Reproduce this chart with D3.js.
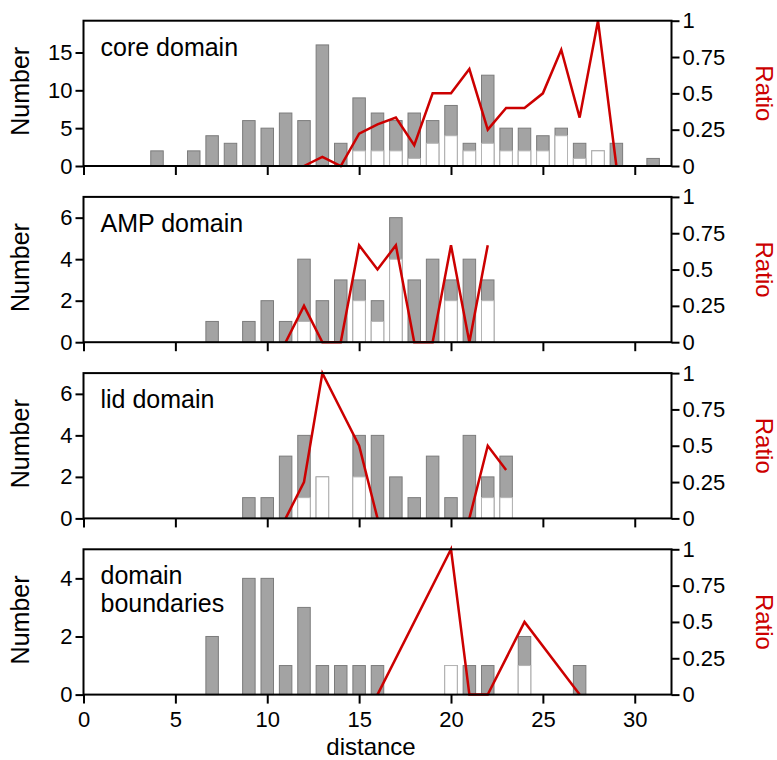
<!DOCTYPE html>
<html>
<head>
<meta charset="utf-8">
<script src="https://cdn.jsdelivr.net/npm/d3@7"></script>
<style>
  body { margin: 0; background: #fff; }
  text { font-family: "Liberation Sans", Arial, sans-serif; }
</style>
</head>
<body>
<script>
// core domain
const coreDist  = [4, 6, 7, 8, 9, 10, 11, 12, 13, 14, 15, 16, 17, 18, 19, 20, 21, 22, 23, 24, 25, 26, 27, 28, 29, 31];
const coreTotal = [2, 2, 4, 3, 6, 5, 7, 6, 16, 3, 9, 7, 6, 7, 6, 8, 3, 12, 5, 5, 4, 5, 3, 2, 3, 1];
const coreSub   = [0, 0, 0, 0, 0, 0, 0, 0, 0, 0, 2, 2, 2, 1, 3, 4, 2, 3, 2, 2, 2, 4, 1, 2, 0, 0];
const coreRatioDist = [12, 13, 14, 15, 16, 17, 18, 19, 20, 21, 22, 23, 24, 25, 26, 27, 28, 29];
const coreRatio     = [0, 0.0625, 0, 0.222, 0.286, 0.333, 0.143, 0.5, 0.5, 0.667, 0.25, 0.4, 0.4, 0.5, 0.8, 0.333, 1, 0];

// AMP domain
const ampDist  = [7, 9, 10, 11, 12, 13, 14, 15, 16, 17, 18, 19, 20, 21, 22];
const ampTotal = [1, 1, 2, 1, 4, 2, 3, 3, 2, 6, 3, 4, 3, 4, 3];
const ampSub   = [0, 0, 0, 0, 1, 0, 0, 2, 1, 4, 0, 0, 2, 0, 2];
const ampRatioDist = [11, 12, 13, 14, 15, 16, 17, 18, 19, 20, 21, 22];
const ampRatio     = [0, 0.25, 0, 0, 0.667, 0.5, 0.667, 0, 0, 0.667, 0, 0.667];

// lid domain
const lidDist  = [9, 10, 11, 12, 13, 15, 16, 17, 18, 19, 20, 21, 22, 23];
const lidTotal = [1, 1, 3, 4, 2, 4, 4, 2, 1, 3, 1, 4, 2, 3];
const lidSub   = [0, 0, 0, 1, 2, 2, 0, 0, 0, 0, 0, 0, 1, 1];
const lidRatioDist = [11, 12, 13, 15, 16, 17, 18, 19, 20, 21, 22, 23];
const lidRatio     = [0, 0.25, 1, 0.5, 0, null, null, null, null, 0, 0.5, 0.333];

// domain boundaries
const bndDist  = [7, 9, 10, 11, 12, 13, 14, 15, 16, 20, 21, 22, 24, 27];
const bndTotal = [2, 4, 4, 1, 3, 1, 1, 1, 1, 1, 1, 1, 2, 1];
const bndSub   = [0, 0, 0, 0, 0, 0, 0, 0, 0, 1, 0, 0, 1, 0];
const bndRatioDist = [16, 20, 21, 22, 24, 27];
const bndRatio     = [0, 1, 0, 0, 0.5, 0];

const panelTitles = [["core domain"], ["AMP domain"], ["lid domain"], ["domain", "boundaries"]];
const yMax = [19.2, 7, 7, 5];
const yTicks = [[0, 5, 10, 15], [0, 2, 4, 6], [0, 2, 4, 6], [0, 2, 4]];
const xTicks = [0, 5, 10, 15, 20, 25, 30];
const ratioTicks = [0, 0.25, 0.5, 0.75, 1];

const panels = [
  {dist: coreDist, total: coreTotal, sub: coreSub, rDist: coreRatioDist, ratio: coreRatio},
  {dist: ampDist, total: ampTotal, sub: ampSub, rDist: ampRatioDist, ratio: ampRatio},
  {dist: lidDist, total: lidTotal, sub: lidSub, rDist: lidRatioDist, ratio: lidRatio},
  {dist: bndDist, total: bndTotal, sub: bndSub, rDist: bndRatioDist, ratio: bndRatio}
];

let width = 777, height = 760;
let margin = {left: 83.5, right: 105.5};
let panelTop = 20.7, panelStep = 176.2, panelH = 145.3;
const red = '#cc0000';

let svg = d3.select('body').append('svg')
  .attr('width', width)
  .attr('height', height);

const xScale = d3.scaleLinear()
  .domain([0, 32])
  .range([margin.left, width - margin.right]);
const barW = 0.68 * (xScale(1) - xScale(0));

panels.forEach(function(p, i) {
  const top = panelTop + i * panelStep;
  const bottom = top + panelH;
  const yScale = d3.scaleLinear().domain([0, yMax[i]]).range([bottom, top]);
  const rScale = d3.scaleLinear().domain([0, 1]).range([bottom, top]);
  const g = svg.append('g');

  // gray bars = all, white bars = subset
  const rows = p.dist.map((d, k) => ({d: d, total: p.total[k], sub: p.sub[k]}));
  g.selectAll('rect.total').data(rows).enter().append('rect')
    .attr('x', d => xScale(d.d) - barW / 2)
    .attr('y', d => yScale(d.total))
    .attr('width', barW)
    .attr('height', d => yScale(0) - yScale(d.total))
    .attr('fill', '#a3a3a3')
    .attr('stroke', '#7c7c7c')
    .attr('stroke-width', 1);
  g.selectAll('rect.sub').data(rows.filter(d => d.sub > 0)).enter().append('rect')
    .attr('x', d => xScale(d.d) - barW / 2)
    .attr('y', d => yScale(d.sub))
    .attr('width', barW)
    .attr('height', d => yScale(0) - yScale(d.sub))
    .attr('fill', '#ffffff')
    .attr('stroke', '#b4b4b4')
    .attr('stroke-width', 1);

  // ratio line
  const pts = p.rDist.map((d, k) => ({d: d, r: p.ratio[k]}));
  const line = d3.line()
    .defined(d => d.r !== null)
    .x(d => xScale(d.d))
    .y(d => rScale(d.r));
  g.append('path')
    .datum(pts)
    .attr('d', line)
    .attr('fill', 'none')
    .attr('stroke', red)
    .attr('stroke-width', 2.5)
    .attr('stroke-linejoin', 'miter');

  // axes
  const yAxis = g.append('g')
    .attr('transform', `translate(${margin.left},0)`)
    .call(d3.axisLeft(yScale).tickValues(yTicks[i]).tickFormat(d3.format('d')).tickSize(8).tickSizeOuter(0).tickPadding(3));
  const rAxis = g.append('g')
    .attr('transform', `translate(${width - margin.right},0)`)
    .call(d3.axisRight(rScale).tickValues(ratioTicks).tickFormat(d3.format('')).tickSize(8).tickSizeOuter(0).tickPadding(3));
  const xAxis = g.append('g')
    .attr('transform', `translate(0,${bottom})`)
    .call(d3.axisBottom(xScale).tickValues(xTicks).tickFormat(d3.format('d')).tickSize(9).tickSizeOuter(0).tickPadding(8));
  if (i < 3) xAxis.selectAll('text').remove();

  [yAxis, rAxis, xAxis].forEach(a => {
    a.select('.domain').remove();
    a.selectAll('line').attr('stroke', '#000').attr('stroke-width', 2);
    a.selectAll('text').attr('fill', '#000').style('font-size', '22px');
  });

  // frame
  g.append('rect')
    .attr('x', margin.left)
    .attr('y', top)
    .attr('width', width - margin.right - margin.left)
    .attr('height', panelH)
    .attr('fill', 'none')
    .attr('stroke', '#000')
    .attr('stroke-width', 2);

  // panel title
  const t = g.append('text')
    .attr('x', margin.left + 17)
    .attr('y', top + 35)
    .style('font-size', '25px')
    .attr('fill', '#000');
  panelTitles[i].forEach((s, k) => {
    t.append('tspan').attr('x', margin.left + 17).attr('dy', k === 0 ? 0 : 28).text(s);
  });

  // y-axis labels
  g.append('text')
    .attr('transform', `translate(29,${(top + bottom) / 2 - 2}) rotate(-90)`)
    .attr('text-anchor', 'middle')
    .style('font-size', '25px')
    .attr('fill', '#000')
    .text('Number');
  g.append('text')
    .attr('transform', `translate(756,${(top + bottom) / 2}) rotate(90)`)
    .attr('text-anchor', 'middle')
    .style('font-size', '24px')
    .attr('fill', red)
    .text('Ratio');
});

// x-axis label
svg.append('text')
  .attr('x', 371)
  .attr('y', 755)
  .attr('text-anchor', 'middle')
  .style('font-size', '24px')
  .attr('fill', '#000')
  .text('distance');
</script>
</body>
</html>
